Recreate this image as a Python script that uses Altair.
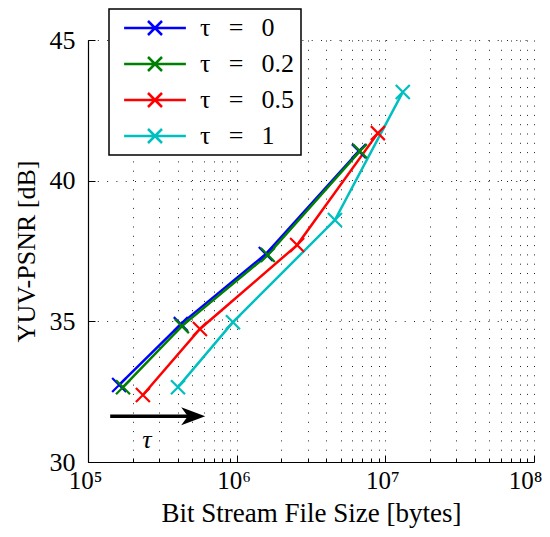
import altair as alt
import pandas as pd

# ---- data ----
tau_labels = ["τ = 0", "τ = 0.2", "τ = 0.5", "τ = 1"]
tau_colors = ["#0000FF", "#008000", "#FF0000", "#00BFBF"]

size_t0 = [1.62e5, 4.21e5, 1.57e6, 6.64e6]
psnr_t0 = [32.74, 34.90, 37.39, 41.05]
size_t02 = [1.72e5, 4.28e5, 1.62e6, 6.74e6]
psnr_t02 = [32.66, 34.83, 37.36, 41.05]
size_t05 = [2.34e5, 5.66e5, 2.55e6, 8.91e6]
psnr_t05 = [32.38, 34.73, 37.71, 41.69]
size_t1 = [4.03e5, 9.44e5, 4.58e6, 1.31e7]
psnr_t1 = [32.66, 34.97, 38.60, 43.15]

x_ticks = [m * 10 ** k for k in (5, 6, 7) for m in range(1, 10)] + [1e8]
x_major = [1e5, 1e6, 1e7, 1e8]
x_major_labels = ["10⁵", "10⁶", "10⁷", "10⁸"]
y_ticks = [30, 35, 40, 45]

arrow_x = [1.41e5, 5.1e5]
arrow_y = [31.63, 31.63]
arrow_head_x = [5.1e5]
arrow_head_y = [31.63]
tau_text = ["τ"]
tau_text_x = [2.49e5]
tau_text_y = [30.78]

rows = []
for lab, xs, ys in zip(tau_labels, [size_t0, size_t02, size_t05, size_t1],
                       [psnr_t0, psnr_t02, psnr_t05, psnr_t1]):
    for xv, yv in zip(xs, ys):
        rows.append({"tau": lab, "size": xv, "psnr": yv})
df = pd.DataFrame(rows)
arrow_df = pd.DataFrame({"size": arrow_x, "psnr": arrow_y})
head_df = pd.DataFrame({"size": arrow_head_x, "psnr": arrow_head_y})
text_df = pd.DataFrame({"size": tau_text_x, "psnr": tau_text_y, "t": tau_text})

FONT = "Liberation Serif"
W, H = 446, 422

xscale = alt.Scale(type="log", domain=[1e5, 1e8], nice=False)
yscale = alt.Scale(domain=[30, 45], nice=False, zero=False)

label_expr = " : ".join(
    f"datum.value == {int(v)} ? '{l}'" for v, l in zip(x_major, x_major_labels)
) + " : ''"
major_test = " || ".join(f"datum.value == {int(v)}" for v in x_major)

SP = "\u2002\u2009"
color = alt.Color(
    "tau:N",
    scale=alt.Scale(domain=tau_labels, range=tau_colors),
    sort=tau_labels,
    legend=alt.Legend(
        title=None,
        orient="none",
        legendX=21,
        legendY=-31,
        symbolType="M-3,0H3M-0.68,-0.68L0.68,0.68M-0.68,0.68L0.68,-0.68",
        symbolSize=424,
        symbolStrokeWidth=2.5,
        symbolOffset=27,
        labelOffset=32,
        labelFont=FONT,
        labelFontSize=26,
        labelColor="black",
        labelExpr=f"replace(replace(datum.label, ' ', '{SP}'), ' ', '{SP}') + '\u2003'",
        rowPadding=10,
        padding=6,
        strokeColor="black",
        fillColor="white",
        labelLimit=0,
    ),
)

lines = alt.Chart(df).mark_line(strokeWidth=2.5).encode(
    x=alt.X(
        "size:Q",
        scale=xscale,
        axis=alt.Axis(
            values=x_ticks,
            labelExpr=label_expr,
            labelOverlap=False,
            labelFlush=False,
            labelFont=FONT,
            labelFontSize=25,
            labelColor="black",
            labelPadding=6,
            labelOffset={"condition": {"test": "datum.value == 100000000", "value": -9}, "value": -3},
            ticks=False,
            grid=True,
            gridDash=[1, 8.3],
            gridColor="#222222",
            gridWidth=1,
            domainColor="black",
            domainWidth=1.2,
            title="Bit Stream File Size [bytes]",
            titleFont=FONT,
            titleFontSize=27,
            titleFontWeight="normal",
            titleColor="black",
            titlePadding=7,
        ),
    ),
    y=alt.Y(
        "psnr:Q",
        scale=yscale,
        axis=alt.Axis(
            values=y_ticks,
            labelFont=FONT,
            labelFontSize=26,
            labelColor="black",
            labelPadding=13,
            ticks=False,
            grid=True,
            gridDash=[1, 8.3],
            gridColor="#222222",
            gridWidth=1,
            domainColor="black",
            domainWidth=1.2,
            title="YUV-PSNR [dB]",
            titleFont=FONT,
            titleFontSize=26,
            titleFontWeight="normal",
            titleColor="black",
            titlePadding=10,
        ),
    ),
    color=color,
    order=alt.Order("size:Q"),
)

points = alt.Chart(df).mark_point(
    shape="M-1,-1L1,1M-1,1L1,-1", size=196, strokeWidth=2.2, filled=False, opacity=1
).encode(
    x=alt.X(
        "size:Q",
        scale=xscale,
        axis=alt.Axis(
            orient="top",
            offset=-H,
            values=x_ticks,
            labels=False,
            grid=False,
            domain=False,
            ticks=True,
            tickColor="black",
            tickWidth=1,
            tickSize={"condition": {"test": major_test, "value": 7}, "value": 4},
            title=None,
        ),
    ),
    y=alt.Y(
        "psnr:Q",
        scale=yscale,
        axis=alt.Axis(
            orient="right",
            offset=-W,
            values=y_ticks,
            labels=False,
            grid=False,
            domain=False,
            ticks=True,
            tickColor="black",
            tickWidth=1,
            tickSize=7,
            title=None,
        ),
    ),
    color=alt.Color("tau:N", scale=alt.Scale(domain=tau_labels, range=tau_colors), legend=None),
)

arrow = alt.Chart(arrow_df).mark_line(color="black", strokeWidth=3.5).encode(
    x=alt.X("size:Q", scale=xscale, axis=None),
    y=alt.Y("psnr:Q", scale=yscale, axis=None),
)

head = alt.Chart(head_df).mark_point(
    shape="M1,0L-1,-0.75L-0.45,0L-1,0.75Z", size=576, filled=True, color="black", opacity=1
).encode(
    x=alt.X("size:Q", scale=xscale, axis=None),
    y=alt.Y("psnr:Q", scale=yscale, axis=None),
)

label = alt.Chart(text_df).mark_text(
    font=FONT, fontSize=26, fontStyle="italic", color="black"
).encode(
    x=alt.X("size:Q", scale=xscale, axis=None),
    y=alt.Y("psnr:Q", scale=yscale, axis=None),
    text="t:N",
)

chart = (
    alt.layer(lines, points, arrow, head, label)
    .resolve_axis(x="independent", y="independent")
    .properties(
        width=W,
        height=H,
        autosize=alt.AutoSizeParams(type="none"),
        padding={"left": 80, "top": 32, "right": 8, "bottom": 75},
    )
    .configure_view(stroke=None)
    .configure_legend(strokeWidth=1.5)
)

chart.save("out.html", embed_options={"renderer": "svg", "actions": False})
